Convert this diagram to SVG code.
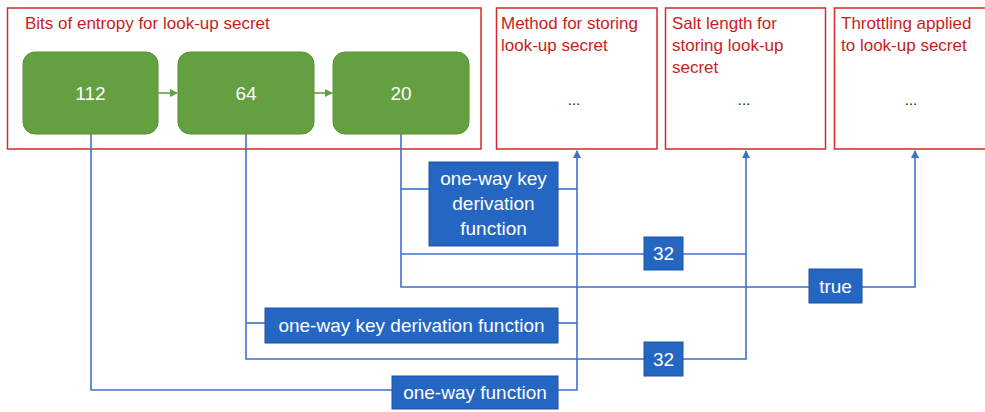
<svg xmlns="http://www.w3.org/2000/svg" width="985" height="412" viewBox="0 0 985 412">
<defs>
<style>
.frame{fill:#fff;stroke:#d42a2a;stroke-width:1.5}
.rt{font-family:"Liberation Sans",Arial,sans-serif;font-size:17px;fill:#c81e1e}
.dots{font-family:"Liberation Sans",Arial,sans-serif;font-size:15px;fill:#222;text-anchor:middle}
.gbox{fill:#64a03f;stroke:#5a9236;stroke-width:1}
.gt{font-family:"Liberation Sans",Arial,sans-serif;font-size:19px;fill:#fff;text-anchor:middle}
.bbox{fill:#2566c2;stroke:#1d55a6;stroke-width:1}
.bt{font-family:"Liberation Sans",Arial,sans-serif;font-size:19px;fill:#fff;text-anchor:middle}
.ln{fill:none;stroke:#3b72cc;stroke-width:1.6}
.gl{fill:none;stroke:#64a03f;stroke-width:1.6}
</style>
<marker id="ab" markerWidth="8" markerHeight="8" refX="7" refY="4" orient="auto" markerUnits="userSpaceOnUse">
<path d="M0,0 L8,4 L0,8 Z" fill="#3b72cc"/>
</marker>
<marker id="ag" markerWidth="8" markerHeight="8" refX="7" refY="4" orient="auto" markerUnits="userSpaceOnUse">
<path d="M0,0 L8,4 L0,8 Z" fill="#64a03f"/>
</marker>
</defs>

<g id="entropy-frame">
<rect class="frame" x="7.5" y="8" width="473.5" height="141"/>
<text class="rt" x="25" y="29">Bits of entropy for look-up secret</text>
</g>
<g id="method-frame">
<rect class="frame" x="496.5" y="8" width="160.5" height="141"/>
<text class="rt" x="501" y="29">Method for storing</text>
<text class="rt" x="501" y="51">look-up secret</text>
<text class="dots" x="574" y="105">...</text>
</g>
<g id="salt-frame">
<rect class="frame" x="665.5" y="8" width="160" height="141"/>
<text class="rt" x="672" y="29">Salt length for</text>
<text class="rt" x="672" y="51">storing look-up</text>
<text class="rt" x="672" y="73">secret</text>
<text class="dots" x="744" y="105">...</text>
</g>
<g id="throttling-frame">
<rect class="frame" x="834.5" y="8" width="160" height="141"/>
<text class="rt" x="841" y="29">Throttling applied</text>
<text class="rt" x="841" y="51">to look-up secret</text>
<text class="dots" x="911" y="105">...</text>
</g>

<g id="connectors">
<path class="gl" d="M158,93 H177" marker-end="url(#ag)"/>
<path class="gl" d="M314,93 H332" marker-end="url(#ag)"/>
<path class="ln" d="M401,134 V287 H809"/>
<path class="ln" d="M401,189 H429"/>
<path class="ln" d="M558,189 H577"/>
<path class="ln" d="M401,254 H644"/>
<path class="ln" d="M683,254 H746"/>
<path class="ln" d="M862,287 H915 V151" marker-end="url(#ab)"/>
<path class="ln" d="M246,134 V359 H644"/>
<path class="ln" d="M246,323 H265"/>
<path class="ln" d="M558,323 H577"/>
<path class="ln" d="M683,359 H746 V151" marker-end="url(#ab)"/>
<path class="ln" d="M91,134 V390 H392"/>
<path class="ln" d="M558,390 H577 V151" marker-end="url(#ab)"/>
</g>

<g id="n112">
<rect class="gbox" x="23" y="52" width="135" height="82" rx="12"/>
<text class="gt" x="90.5" y="100">112</text>
</g>
<g id="n64">
<rect class="gbox" x="178" y="52" width="136" height="82" rx="12"/>
<text class="gt" x="246" y="100">64</text>
</g>
<g id="n20">
<rect class="gbox" x="333" y="52" width="136" height="82" rx="12"/>
<text class="gt" x="401" y="100">20</text>
</g>

<g id="kdf1">
<rect class="bbox" x="429" y="162" width="129" height="84"/>
<text class="bt" x="493.5" y="185">one-way key</text>
<text class="bt" x="493.5" y="210">derivation</text>
<text class="bt" x="493.5" y="235">function</text>
</g>
<g id="salt32a">
<rect class="bbox" x="644" y="237" width="39" height="33"/>
<text class="bt" x="663.5" y="260">32</text>
</g>
<g id="true-box">
<rect class="bbox" x="809" y="269" width="53" height="34"/>
<text class="bt" x="835.5" y="293">true</text>
</g>
<g id="kdf2">
<rect class="bbox" x="265" y="308" width="293" height="35"/>
<text class="bt" x="411.5" y="332">one-way key derivation function</text>
</g>
<g id="salt32b">
<rect class="bbox" x="644" y="342" width="39" height="34"/>
<text class="bt" x="663.5" y="366">32</text>
</g>
<g id="owf">
<rect class="bbox" x="392" y="376" width="166" height="33"/>
<text class="bt" x="475" y="399">one-way function</text>
</g>
</svg>
